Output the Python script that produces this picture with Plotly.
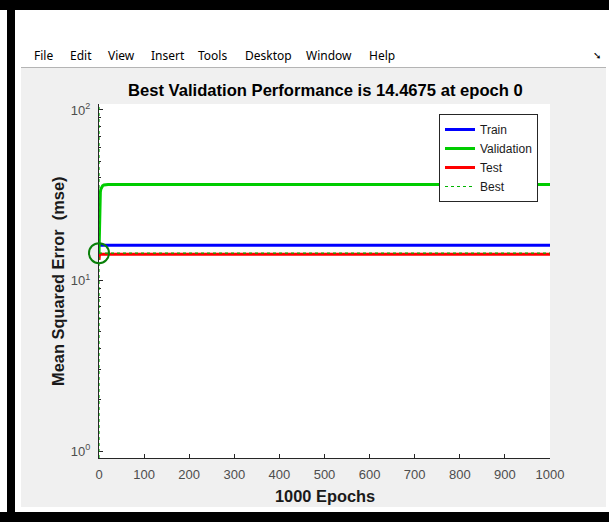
import plotly.graph_objects as go

# ---- data -------------------------------------------------------------
train_epochs = [0, 1000]
train_mse = [16.1, 16.1]

val_epochs = [0, 1, 2, 3, 4, 6, 8, 11, 15, 20, 1000]
val_mse = [14.4675, 24.0, 30.0, 33.0, 34.3, 35.4, 35.9, 36.3, 36.5, 36.6, 36.6]

test_epochs = [0, 1, 1000]
test_mse = [13.2, 14.25, 14.25]

best_epoch = 0
best_perf = 14.4675
n_epochs = 1000

x_ticks = [0, 100, 200, 300, 400, 500, 600, 700, 800, 900, 1000]
y_ticks = [1, 10, 100]
y_tick_text = ["10<sup>0</sup>", "10<sup>1</sup>", "10<sup>2</sup>"]
y_minor = [v * d for d in (1, 10) for v in range(2, 10)]
y_log_range = [-0.041, 2.035]

menu_items = ["File", "Edit", "View", "Insert", "Tools", "Desktop", "Window", "Help"]
menu_left_px = [32, 68, 106, 149, 196, 243, 304, 367]

# ---- geometry helpers (pixel -> paper) --------------------------------
W, H = 609, 522
L, R, T, B = 99, 59, 104, 64
PW, PH = W - L - R, H - T - B


def px(x):
    return (x - L) / PW


def py(y):
    return (H - B - y) / PH


FONT = "Liberation Sans, Arial, Helvetica, sans-serif"
ymin, ymax = 10 ** y_log_range[0], 10 ** y_log_range[1]

fig = go.Figure()

fig.add_trace(go.Scatter(x=train_epochs, y=train_mse, mode="lines", name="Train",
                         line=dict(color="#0000ff", width=3)))
fig.add_trace(go.Scatter(x=val_epochs, y=val_mse, mode="lines", name="Validation",
                         line=dict(color="#00cc00", width=3)))
fig.add_trace(go.Scatter(x=test_epochs, y=test_mse, mode="lines", name="Test",
                         line=dict(color="#ff0000", width=3)))
fig.add_trace(go.Scatter(
    x=[best_epoch, best_epoch, None, 0, n_epochs],
    y=[ymin, ymax, None, best_perf, best_perf],
    mode="lines", name="Best",
    line=dict(color="#00b400", width=1.2, dash="dot")))
fig.add_trace(go.Scatter(
    x=[best_epoch], y=[best_perf], mode="markers", showlegend=False,
    marker=dict(symbol="circle-open", size=20, color="#0a800a",
                line=dict(color="#0a800a", width=2)),
    cliponaxis=False))

# ---- window chrome ------------------------------------------------------
shapes = []


def rect(x0, y0, x1, y1, color):
    shapes.append(dict(type="rect", xref="paper", yref="paper",
                       x0=px(x0), x1=px(x1), y0=py(y1), y1=py(y0),
                       fillcolor=color, line=dict(width=0), layer="below"))


rect(0, 0, W, 67, "white")          # menu bar
rect(0, 0, 21, H, "white")          # left margin
rect(606, 0, W, H, "white")         # right margin
rect(0, 507, W, H, "white")         # bottom margin
rect(0, 0, W, 10, "black")          # frame top
rect(7, 0, 15, H, "black")          # frame left
rect(0, 512, W, H, "black")         # frame bottom
shapes.append(dict(type="line", xref="paper", yref="paper",
                   x0=px(21), x1=px(606), y0=py(67.5), y1=py(67.5),
                   line=dict(color="#b4b4b4", width=1), layer="below"))

annotations = []
for name, xl in zip(menu_items, menu_left_px):
    annotations.append(dict(text=name, xref="paper", yref="paper",
                            x=px(xl), y=py(56), xanchor="left", yanchor="middle",
                            showarrow=False,
                            font=dict(family="Noto Sans, sans-serif", size=12, color="black")))
annotations.append(dict(text="➘", xref="paper", yref="paper", x=px(597), y=py(56),
                        xanchor="center", yanchor="middle", showarrow=False,
                        font=dict(family="DejaVu Sans", size=10, color="black")))

annotations.append(dict(text="<b>Best Validation Performance is 14.4675 at epoch 0</b>",
                        xref="paper", yref="paper", x=px(325), y=py(90),
                        xanchor="center", yanchor="middle", showarrow=False,
                        font=dict(family=FONT, size=16.6, color="black")))
annotations.append(dict(text="<b>1000 Epochs</b>", xref="paper", yref="paper",
                        x=px(325), y=py(496), xanchor="center", yanchor="middle",
                        showarrow=False, font=dict(family=FONT, size=16.4, color="#1a1a1a")))
annotations.append(dict(text="<b>Mean Squared Error  (mse)</b>", xref="paper", yref="paper",
                        x=px(58), y=py(281), xanchor="center", yanchor="middle",
                        textangle=-90, showarrow=False,
                        font=dict(family=FONT, size=16.4, color="#1a1a1a")))

fig.update_layout(
    width=W, height=H,
    margin=dict(l=L, r=R, t=T, b=B, pad=0),
    paper_bgcolor="#f0f0f0", plot_bgcolor="white",
    showlegend=True,
    legend=dict(x=px(439), y=py(114), xanchor="left", yanchor="top",
                bgcolor="white", bordercolor="#262626", borderwidth=1,
                font=dict(family=FONT, size=12, color="#1a1a1a"),
                itemclick=False, tracegroupgap=0),
    shapes=shapes, annotations=annotations,
    xaxis=dict(range=[0, n_epochs], tickvals=x_ticks, ticks="inside", ticklen=4,
               tickcolor="#262626", showline=True, linecolor="#262626", linewidth=1,
               showgrid=False, zeroline=False, ticklabelstandoff=4,
               tickfont=dict(family=FONT, size=13, color="#4d4d4d")),
    yaxis=dict(type="log", range=y_log_range, tickvals=y_ticks, ticktext=y_tick_text,
               ticks="inside", ticklen=4, tickcolor="#262626", showline=True,
               linecolor="#262626", linewidth=1, showgrid=False, zeroline=False,
               ticklabelstandoff=5, layer="below traces",
               minor=dict(tickmode="array", tickvals=y_minor, ticks="inside",
                          ticklen=2, tickcolor="#262626", showgrid=False),
               tickfont=dict(family=FONT, size=13, color="#4d4d4d")),
)

fig.write_html("out.html")
